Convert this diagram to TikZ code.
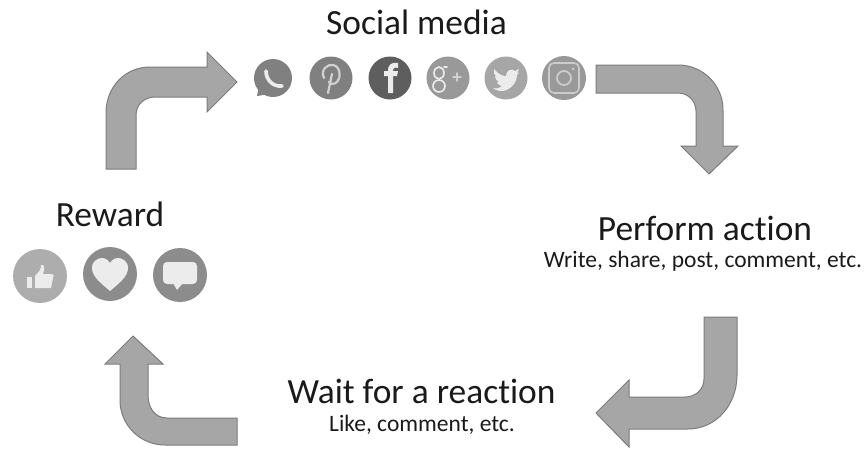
\documentclass[tikz,border=0pt]{standalone}
\usepackage{fontspec}
\setmainfont[Ligatures=CommonOff]{Carlito}
\usepackage{xcolor}
\usetikzlibrary{positioning}
\definecolor{arrowfill}{RGB}{166,166,166}
\definecolor{arrowedge}{RGB}{124,124,124}
\definecolor{glyphcolor}{RGB}{236,236,236}
\definecolor{textcolor}{RGB}{26,26,26}
\tikzset{
  bent arrow/.style={
    draw=arrowedge,
    fill=arrowfill,
    line width=1pt,
    line join=miter
  },
  icon/.style={
    circle,
    minimum size=#1,
    inner sep=0pt
  },
  glyph/.style={
    fill=glyphcolor,
    draw=none
  },
  glyph line/.style={
    draw=glyphcolor,
    line cap=round
  },
  title/.style={
    text=textcolor,
    anchor=base,
    font=\fontsize{35.4}{35.4}\selectfont,
    inner sep=0pt
  },
  subtitle/.style={
    text=textcolor,
    anchor=base,
    font=\fontsize{23.5}{23.5}\selectfont,
    inner sep=0pt
  }
}

\begin{document}
\begin{tikzpicture}[x=1pt,y=-1pt]
  \useasboundingbox (0,0) rectangle (867,448);

  % Labels
  \node[title] (social) at (416.5,34) {Social media};
  \node[title] (reward) at (110,226) {Reward};
  \node[title] (perform) at (705,240) {Perform action};
  \node[subtitle] (performsub) at (703,267) {Write, share, post, comment, etc.};
  \node[title] (wait) at (421.5,403) {Wait for a reaction};
  \node[subtitle] (waitsub) at (422,431) {Like, comment, etc.};

  % Bent arrows
  \draw[bent arrow] (106,169) -- (106,113) .. controls (106,87) and (125,67) .. (150,67)
    -- (207,67) -- (207,52) -- (237,82) -- (207,112) -- (207,97) -- (155,97)
    .. controls (144,97) and (136,105) .. (136,115) -- (136,169) -- cycle;
  \draw[bent arrow] (596,65) -- (678,65) .. controls (703,65) and (723,85) .. (723,110)
    -- (723,146) -- (738,146) -- (709,174) -- (681,146) -- (696,146) -- (696,111)
    .. controls (696,101) and (688,93) .. (678,93) -- (596,93) -- cycle;
  \draw[bent arrow] (737,317) -- (737,375) .. controls (737,405) and (716,429) .. (688,429)
    -- (629,429) -- (629,447) -- (596,413) -- (629,380) -- (629,397) -- (685,397)
    .. controls (696,397) and (704,389) .. (704,379) -- (704,317) -- cycle;
  \draw[bent arrow] (237,418) -- (237,445) -- (165,445) .. controls (140,445) and (120,425) .. (120,400)
    -- (120,364) -- (105,364) -- (133,336) -- (163,364) -- (148,364) -- (148,395)
    .. controls (148,408) and (155,418) .. (167,418) -- cycle;

  % Social icons
  \node[icon=38pt, fill=black!50] (whatsapp) at (273,78) {};
  \fill[black!50] (259,85) -- (257,96) -- (270,94) -- cycle;
  \node[icon=43pt, fill=black!50] (pinterest) at (331,78) {};
  \node[icon=43pt, fill=black!63] (facebook) at (390,78) {};
  \node[icon=43pt, fill=black!40] (googleplus) at (448,78) {};
  \node[icon=43pt, fill=black!35] (twitter) at (506,78) {};
  \node[icon=44pt, fill=black!40] (instagram) at (564,78) {};

  % Social glyphs
  \begin{scope}[shift={(whatsapp.center)}]
    \draw[glyph line, line width=3.6pt] (-7,-7) .. controls (-7,2) and (0,9) .. (9,8);
  \end{scope}
  \begin{scope}[shift={(pinterest.center)}]
    \draw[glyph line, line width=2.2pt, draw=black!18] (-3,15) -- (1,-4);
    \draw[glyph line, line width=2.2pt, draw=black!18] (-7,0) .. controls (-11,-9) and (-3,-14) .. (2,-13)
      .. controls (11,-12) and (11,6) .. (1,6) .. controls (0,6) and (-1,5) .. (-2,4);
  \end{scope}
  \begin{scope}[shift={(facebook.center)}]
    \fill[glyph] (-2,15) -- (-2,-2) -- (-6,-2) -- (-6,-7) -- (-2,-7) .. controls (-2,-14) and (2,-16) .. (8,-15)
      -- (8,-10) .. controls (5,-11) and (3,-10) .. (3,-7) -- (8,-7) -- (7,-2) -- (3,-2) -- (3,15) -- cycle;
  \end{scope}
  \begin{scope}[shift={(googleplus.center)}]
    \draw[glyph line, line width=1.6pt] (-9,-5) ellipse [x radius=5, y radius=6];
    \draw[glyph line, line width=1.6pt] (-9,8) ellipse [x radius=6, y radius=6];
    \draw[glyph line, line width=1.6pt] (-4,-11) -- (-1,-11);
    \draw[glyph line, line width=1.4pt, draw=black!18] (5,-1) -- (13,-1) (9,-5) -- (9,3);
  \end{scope}
  \begin{scope}[shift={(twitter.center)}]
    \fill[glyph] (-12,-9) .. controls (-8,-4) and (-4,-2) .. (0,-2) .. controls (0,-8) and (6,-10) .. (9,-7)
      -- (13,-9) -- (11,-5) -- (13,-5.5) -- (11,-3) .. controls (11,6) and (2,14) .. (-6,13)
      .. controls (-9,13) and (-12,11) .. (-13,10) .. controls (-9,11) and (-6,10) .. (-4,8)
      .. controls (-8,7) and (-9,5) .. (-9,4) -- (-7,4) .. controls (-10,3) and (-11,0) .. (-11,-2)
      -- (-8.5,-1) .. controls (-12,-3) and (-13,-6) .. (-12,-9) -- cycle;
  \end{scope}
  \begin{scope}[shift={(instagram.center)}]
    \draw[draw=black!20, line width=1.6pt, rounded corners=5pt] (-15,-15) rectangle (15,15);
    \draw[draw=black!20, line width=1.8pt] (0,0) circle (7);
    \fill[black!20] (9,-9) circle (1.5);
  \end{scope}

  % Reward icons
  \node[icon=54pt, fill=black!32] (like) at (40,276) {};
  \node[icon=54pt, fill=black!45] (heart) at (110,274) {};
  \node[icon=54pt, fill=black!45] (comment) at (180,275) {};

  % Reward glyphs
  \begin{scope}[shift={(like.center)}]
    \fill[glyph] (-13,1) rectangle (-8,12);
    \fill[glyph] (-5,12) -- (-5,0) -- (0,-6) .. controls (1,-8) and (1,-10) .. (1,-11) -- (3,-11)
      .. controls (5,-9) and (4,-5) .. (3,-2) -- (12,-2) .. controls (14,-2) and (14,0) .. (13,2)
      -- (11,12) -- cycle;
  \end{scope}
  \begin{scope}[shift={(heart.center)}]
    \fill[glyph] (0,17) .. controls (-8,10) and (-18,3) .. (-18,-6) .. controls (-18,-13) and (-12,-16) .. (-8,-16)
      .. controls (-4,-16) and (-1,-13) .. (0,-11) .. controls (1,-13) and (4,-16) .. (8,-16)
      .. controls (12,-16) and (18,-13) .. (18,-6) .. controls (18,3) and (8,10) .. (0,17) -- cycle;
  \end{scope}
  \begin{scope}[shift={(comment.center)}]
    \fill[glyph, rounded corners=4pt] (-17,-13) rectangle (17,9);
    \fill[glyph] (-7,8) -- (-3,15) -- (3,8) -- cycle;
  \end{scope}
\end{tikzpicture}
\end{document}
